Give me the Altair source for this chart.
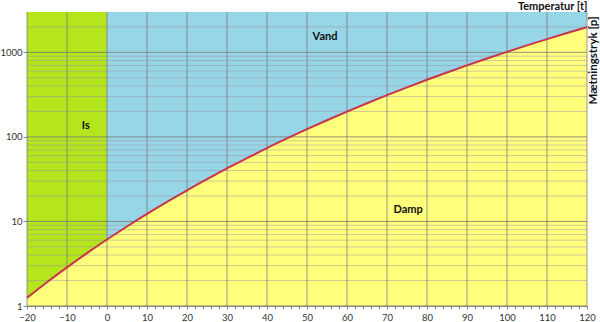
import altair as alt
import pandas as pd

# Saturation vapour pressure curve (hPa)
temps = [-20, -15, -10, -5, 0, 5, 10, 15, 20, 25, 30, 35, 40, 45, 50, 55, 60,
         65, 70, 75, 80, 85, 90, 95, 100, 105, 110, 115, 120]
pressure = [1.25, 1.91, 2.86, 4.22, 6.11, 8.72, 12.27, 17.04, 23.37, 31.67, 42.43,
            56.2, 73.8, 95.8, 123.4, 157.5, 199.3, 250.1, 311.6, 385.5, 473.6, 578,
            701, 845, 1013, 1208, 1433, 1691, 1985]

region_names = ["Is", "Vand", "Damp"]
region_t = [-5.3, 54.5, 75.3]
region_p = [135, 1500, 13.5]

y_min, y_max = 1, 3000
x_minor_ticks = list(range(-20, 121, 2))
x_major = list(range(-20, 121, 10))
y_major = [1, 10, 100, 1000]
y_minor = [m * 10 ** e for e in range(0, 4) for m in range(2, 10) if m * 10 ** e < y_max]

df = pd.DataFrame({"t": temps, "p": pressure})
df["lo"] = y_min
df["hi"] = y_max
labels = pd.DataFrame({"name": region_names, "t": region_t, "p": region_p})
vgrid = pd.DataFrame({"t": x_major})
hgrid_major = pd.DataFrame({"p": y_major})
hgrid_minor = pd.DataFrame({"p": y_minor})

FONT = "Lato"

xscale = alt.Scale(domain=[-20, 120], nice=False, zero=False)
yscale = alt.Scale(type="log", domain=[y_min, y_max], nice=False)

x_axis = alt.Axis(
    values=x_minor_ticks,
    labelExpr="datum.value % 10 == 0 ? datum.label : ''",
    labelOverlap=False,
    labelFlush=False,
    tickSize=3,
    tickColor="#888888",
    domainColor="#888888",
    grid=False,
    labelFont=FONT, labelFontSize=9.5, labelColor="#333333", labelPadding=3,
    title="Temperatur [t]", titleFont=FONT, titleFontSize=11, titleFontWeight="bold",
    titleColor="#111111", titleX=560, titleY=-300, titleAlign="right",
    titleBaseline="middle",
)

y_axis = alt.Axis(
    values=y_major,
    labelExpr="'' + datum.value",
    labelOverlap=False,
    labelFlush=False,
    tickSize=4,
    tickColor="#888888",
    domainColor="#888888",
    grid=False,
    labelFont=FONT, labelFontSize=9.5, labelColor="#333333", labelPadding=1,
    title="Mætningstryk [p]", titleFont=FONT, titleFontSize=11.5, titleFontWeight="bold",
    titleColor="#111111", titleAngle=270, titleX=566, titleY=4, titleAlign="right",
    titleBaseline="middle",
)

X = alt.X("t:Q", scale=xscale, axis=x_axis)
Y = alt.Y("p:Q", scale=yscale, axis=y_axis)

base = alt.Chart(df)

yellow = base.mark_area(color="#ffff7c", opacity=1).encode(x=X, y=Y, y2="lo:Q")
green = base.transform_filter("datum.t <= 0").mark_area(color="#b5e51d", opacity=1).encode(
    x=X, y=Y, y2="hi:Q")
blue = base.transform_filter("datum.t >= 0").mark_area(color="#97d6e7", opacity=1).encode(
    x=X, y=Y, y2="hi:Q")
minor_rules = alt.Chart(hgrid_minor).mark_rule(color="#9c94a8", opacity=0.5, strokeWidth=1).encode(y=Y)
major_rules = alt.Chart(hgrid_major).mark_rule(color="#777777", opacity=0.8, strokeWidth=1).encode(y=Y)
v_rules = alt.Chart(vgrid).mark_rule(color="#777777", opacity=0.75, strokeWidth=1).encode(x=X)
curve = base.mark_line(color="#c8344c", strokeWidth=2, interpolate="monotone").encode(x=X, y=Y)
text = alt.Chart(labels).mark_text(font=FONT, fontSize=11, fontWeight="bold", color="#111111").encode(
    x=X, y=Y, text="name:N")

chart = alt.layer(yellow, green, blue, minor_rules, major_rules, v_rules, curve, text).properties(
    width=560, height=294,
    autosize="none",
    padding={"left": 27, "top": 12, "right": 13, "bottom": 16},
    background="white",
).configure_view(stroke=None)

chart.save("out.html", embed_options={"renderer": "svg", "actions": False})
